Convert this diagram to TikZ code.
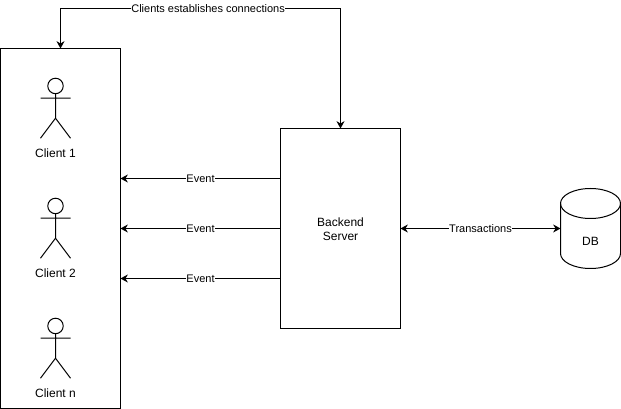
\documentclass[tikz,border=0pt]{standalone}
\usepackage{fontspec}
\setmainfont{Liberation Sans}
\usetikzlibrary{shapes,arrows.meta,positioning}
\tikzstyle{box} = [draw=black, line width=0.75pt, outer sep=0pt, text=black, align=center, font=\fontsize{9}{10.8}\selectfont]
\tikzstyle{store} = [outer sep=0pt, inner sep=0pt, minimum width=45pt, minimum height=60pt]
\tikzstyle{textonly} = [draw=none, fill=none, inner sep=0.5pt, text=black, align=center, font=\fontsize{9}{10.8}\selectfont]
\tikzstyle{edgelabel} = [textonly, fill=white, font=\fontsize{8.25}{9.9}\selectfont]
\tikzstyle{tedge} = [draw, line width=0.75pt, -{Stealth[length=5.5pt,width=6pt]}]
\tikzstyle{tboth} = [draw, line width=0.75pt, {Stealth[length=5.5pt,width=6pt]}-{Stealth[length=5.5pt,width=6pt]}]
\tikzstyle{head} = [circle, draw=black, line width=0.75pt, fill=white, inner sep=0pt, outer sep=0pt, minimum size=11.6pt]
\tikzset{actor/.pic={
  \node[head] (-head) {};
  \coordinate (-larm) at (-11.25pt,-9.2pt);
  \coordinate (-rarm) at (11.25pt,-9.2pt);
  \coordinate (-hip) at (0pt,-24.2pt);
  \coordinate (-lfoot) at (-11.25pt,-39.2pt);
  \coordinate (-rfoot) at (11.25pt,-39.2pt);
  \draw[line width=0.75pt] (-head) -- (-hip) (-larm) -- (-rarm) (-lfoot) -- (-hip) -- (-rfoot);
  \node[textonly] (-name) at (0pt,-50.6pt) {\tikzpictext};
}}

\begin{document}
\begin{tikzpicture}
\useasboundingbox (0,0) rectangle (465.75pt,-306.75pt);

% boxes =============================
\node[box, minimum width=90pt, minimum height=270pt] (clients) at (45.375pt,-171.375pt) {};
\node[box, minimum width=90pt, minimum height=150pt, right=120pt of clients] (backend) {};
\node[textonly, yshift=-0.6pt] (backendname) at (backend.center) {Backend\\Server};
\node[store, right=120pt of backend] (db) {};
\node[textonly, yshift=-9.6pt] (dbname) at (db.center) {DB};

% cylinder
\draw[line width=0.75pt] ([yshift=-11.25pt]db.north west) arc[start angle=180, end angle=0, x radius=22.5pt, y radius=11.25pt] -- ([yshift=11.25pt]db.south east) arc[start angle=0, end angle=-180, x radius=22.5pt, y radius=11.25pt] -- cycle;
\draw[line width=0.75pt] ([yshift=-11.25pt]db.north west) arc[start angle=180, end angle=360, x radius=22.5pt, y radius=11.25pt];

% actors
\pic[pic text={Client 1}] (one) at ([xshift=-3.75pt,yshift=-28.1pt]clients.north) {actor};
\pic[pic text={Client 2}] (two) at ([xshift=-3.75pt,yshift=-118.1pt]clients.north) {actor};
\pic[pic text={Client n}] (three) at ([xshift=-3.75pt,yshift=-208.1pt]clients.north) {actor};

% edges
\coordinate[above=30pt of clients.north] (topleft);
\coordinate[above=90pt of backend.north] (topright);
\path[tedge] (topright) -- node[edgelabel, pos=0.473] (connect) {Clients establishes connections} (topleft) -- (clients.north);
\path[tedge] (topright) -- (backend.north);
\path[tedge] ([yshift=37.5pt]backend.west) -- node[edgelabel, yshift=-0.4pt] (eventa) {Event} ([yshift=37.5pt]clients.east);
\path[tedge] (backend.west) -- node[edgelabel, yshift=-0.4pt] (eventb) {Event} (clients.east);
\path[tedge] ([yshift=-37.5pt]backend.west) -- node[edgelabel, yshift=-0.4pt] (eventc) {Event} ([yshift=-37.5pt]clients.east);
\path[tboth] (backend.east) -- node[edgelabel] (trans) {Transactions} (db.west);

\end{tikzpicture}
\end{document}
